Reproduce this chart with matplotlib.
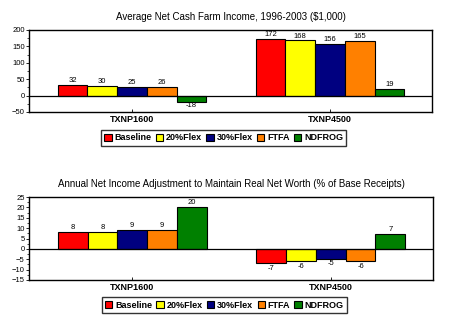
import matplotlib.pyplot as plt
import numpy as np

farms = ["TXNP1600", "TXNP4500"]
scenarios = ["Baseline", "20%Flex", "30%Flex", "FTFA", "NDFROG"]
colors = ["#FF0000", "#FFFF00", "#000080", "#FF8000", "#008000"]

income = [[32, 172], [30, 168], [25, 156], [26, 165], [-18, 19]]
adjust = [[8, -7], [8, -6], [9, -5], [9, -6], [20, 7]]

title_top = "Average Net Cash Farm Income, 1996-2003 ($1,000)"
title_bot = "Annual Net Income Adjustment to Maintain Real Net Worth (% of Base Receipts)"

plt.rcParams['font.family'] = ['Liberation Sans', 'DejaVu Sans']

fig = plt.figure(figsize=(4.55, 3.35), dpi=100)
W, H = 455, 335


def panel(rect, data, title, ylim, step, offs, leg_y):
    ax = fig.add_axes([rect[0] / W, 1 - rect[3] / H, (rect[2] - rect[0]) / W, (rect[3] - rect[1]) / H])
    x = np.arange(len(farms))
    w = 0.15
    handles = []
    for i, (s, c) in enumerate(zip(scenarios, colors)):
        xs = x + (i - 2) * w
        bars = ax.bar(xs, data[i], w, color=c, edgecolor="black", linewidth=0.8, label=s, zorder=2)
        handles.append(bars)
        for xx, v in zip(xs, data[i]):
            if v >= 0:
                ax.text(xx, v + offs, str(v), ha="center", va="bottom", fontsize=5.5)
            else:
                ax.text(xx, v - offs, str(v), ha="center", va="top", fontsize=5.5)
    ax.axhline(0, color="black", linewidth=0.9, zorder=3)
    ax.set_xlim(-0.52, 1.515)
    ax.set_ylim(*ylim)
    ax.set_yticks(np.arange(ylim[0], ylim[1] + 1, step))
    ax.set_yticks(np.arange(ylim[0], ylim[1] + 1, step / 2), minor=True)
    ax.tick_params(axis="y", labelsize=5.5, length=2, width=0.6, pad=1)
    ax.tick_params(axis="y", which="minor", length=1.5, width=0.5)
    ax.set_xticks(x)
    ax.set_xticklabels(farms, fontsize=6.5, fontweight="bold")
    ax.tick_params(axis="x", direction="in", length=2, width=0.6, pad=2)
    for sp in ax.spines.values():
        sp.set_linewidth(1.0)
    ax.set_title(title, fontsize=7, pad=7)
    leg = fig.legend(handles, scenarios, loc="center",
                     bbox_to_anchor=(0.5 * (rect[0] + rect[2]) / W - 0.015, 1 - leg_y / H),
                     ncol=5, frameon=True, fancybox=False, edgecolor="black",
                     handlelength=0.8, handleheight=0.8, handletextpad=0.3, columnspacing=0.5,
                     borderpad=0.35, prop={"weight": "bold", "size": 6.5})
    leg.get_frame().set_linewidth(1.0)
    return ax


panel((29, 30, 432, 112), income, title_top, (-50, 200), 50, 3, 138)
panel((29, 197, 433, 280), adjust, title_bot, (-15, 25), 5, 0.6, 305)

fig.savefig("out.png", dpi=100)
